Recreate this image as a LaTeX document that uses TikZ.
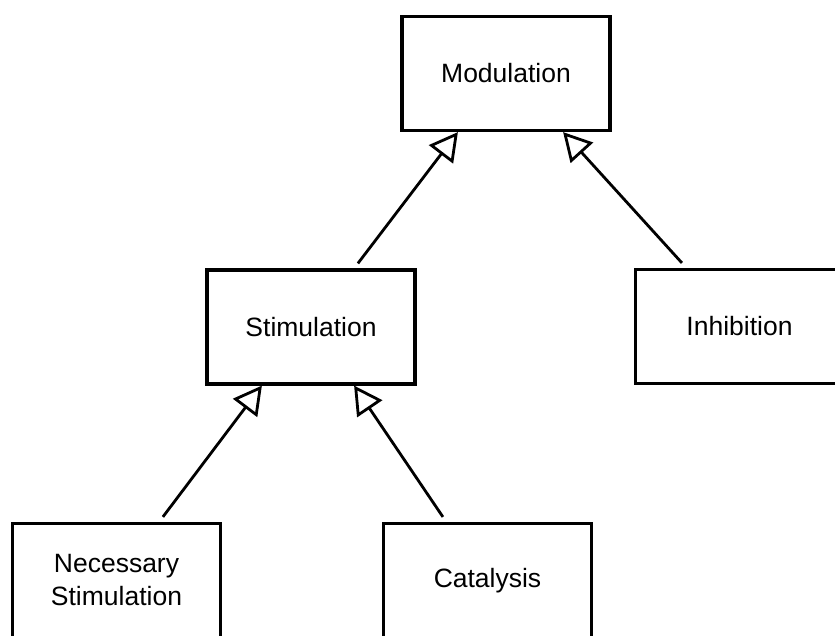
\documentclass[tikz,border=0pt]{standalone}
\usepackage{fontspec}
\setmainfont{Liberation Sans}
\usetikzlibrary{arrows.meta}
\begin{document}
\begin{tikzpicture}[x=1pt,y=-1pt,
  classbox/.style={draw=black,line width=3.2pt,fill=white,minimum width=208pt,minimum height=114pt,
    inner sep=0pt,align=center,font=\fontsize{26.5}{33}\selectfont},
  gen/.style={line width=2.8pt,-{Triangle[open,length=28pt,width=30pt,line join=miter]}}]
\clip (0,0) rectangle (835,635);
\fill[white] (0,0) rectangle (835,635);
\node[classbox] (mod) at (506,73.5) {Modulation};
\node[classbox] (stim) at (311,327) {Stimulation};
\node[classbox] (inh) at (739.5,326.5) {Inhibition};
\node[classbox] (nec) at (116.5,580.5) {Necessary\\Stimulation};
\node[classbox] (cat) at (487.5,580.5) {Catalysis};
\draw[gen] ([xshift=152.5pt,yshift=5pt]stim.north west) -- ([xshift=57.5pt]mod.south west);
\draw[gen] ([xshift=48pt,yshift=5pt]inh.north west) -- ([xshift=-48.5pt]mod.south east);
\draw[gen] ([xshift=152pt,yshift=5pt]nec.north west) -- ([xshift=56.5pt]stim.south west);
\draw[gen] ([xshift=61pt,yshift=5pt]cat.north west) -- ([xshift=-62.5pt]stim.south east);
\end{tikzpicture}
\end{document}
